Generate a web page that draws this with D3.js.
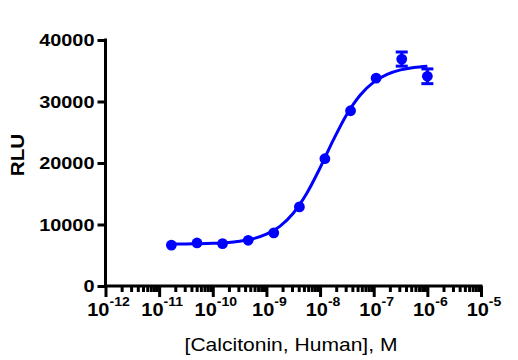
<!DOCTYPE html>
<html><head><meta charset="utf-8">
<script src="https://cdn.jsdelivr.net/npm/d3@7"></script>
<style>body{margin:0;background:#fff}svg{display:block}</style>
</head><body>
<svg id="chart" width="518" height="360"></svg>
<script>
// ---- data ----
const doseM = [1.69e-11, 5.08e-11, 1.52e-10, 4.57e-10, 1.37e-9, 4.12e-9, 1.23e-8, 3.70e-8, 1.11e-7, 3.33e-7, 1.0e-6];
const rlu = [6650, 7000, 6900, 7430, 8640, 12860, 20700, 28500, 33800, 36900, 34100];
const rluErr = [0, 0, 0, 0, 0, 0, 0, 0, 0, 1150, 1200];
// fitted curve
const fitLogM = [-10.77, -10.5, -10.25, -10.0, -9.75, -9.5, -9.25, -9.0, -8.75, -8.5, -8.25, -8.0, -7.75, -7.5, -7.25, -7.0, -6.75, -6.5, -6.25, -6.0];
const fitRlu = [6820, 6840, 6870, 6935, 7050, 7280, 7680, 8420, 9700, 11830, 15030, 19200, 23790, 27930, 31070, 33160, 34420, 35140, 35540, 35750];
const xTickExponents = [-12, -11, -10, -9, -8, -7, -6, -5];
const yTicks = [0, 10000, 20000, 30000, 40000];
const yTickLabels = ["0", "10000", "20000", "30000", "40000"];
const xTitle = "[Calcitonin, Human], M";
const yTitle = "RLU";
const blue = "#0000ff";

const svg = d3.select("#chart");
const x = d3.scaleLog().domain([1e-12, 1e-5]).range([105.5, 481]);
const y = d3.scaleLinear().domain([0, 40000]).range([286, 40]);

// ---- x axis ----
const allXTicks = x.ticks();
const isMajor = v => Math.abs(Math.log10(v) - Math.round(Math.log10(v))) < 1e-6;
const gx = svg.append("g").attr("transform", "translate(0,286)")
  .call(d3.axisBottom(x).tickValues(allXTicks).tickSizeInner(6).tickSizeOuter(0).tickFormat(""));
gx.select(".domain").attr("stroke", "#000").attr("stroke-width", 3).attr("d", `M${x(1e-12)},0H${x(1e-5)+1.5}`);
gx.selectAll(".tick line").attr("stroke", "#000").attr("stroke-width", 3)
  .attr("y2", d => isMajor(d) ? 11 : 6);

// x tick labels
xTickExponents.forEach(e => {
  const g = svg.append("g").attr("transform", `translate(${x(Math.pow(10, e)) + 3},316) scale(1.08,1)`);
  const t = g.append("text").attr("text-anchor", "middle")
    .attr("font-family", "'Liberation Sans', Arial, sans-serif").attr("font-weight", "bold").attr("font-size", 18.5).attr("fill", "#000");
  t.append("tspan").text("10");
  t.append("tspan").attr("font-size", 13).attr("dy", -10).text(String(e));
});

// ---- y axis ----
const gy = svg.append("g").attr("transform", "translate(105.5,0)")
  .call(d3.axisLeft(y).tickValues(yTicks).tickSizeInner(8).tickSizeOuter(0).tickFormat(""));
gy.select(".domain").attr("stroke", "#000").attr("stroke-width", 3).attr("d", `M0,${y(0)}V${y(40000) - 1.5}`);
gy.selectAll(".tick line").attr("stroke", "#000").attr("stroke-width", 3);

yTicks.forEach((v, i) => {
  svg.append("g").attr("transform", `translate(94.5,${y(v) + 6}) scale(1.17,1)`)
    .append("text").attr("text-anchor", "end")
    .attr("font-family", "'Liberation Sans', Arial, sans-serif").attr("font-weight", "bold").attr("font-size", 17).attr("fill", "#000")
    .text(yTickLabels[i]);
});

// titles
svg.append("g").attr("transform", "translate(291,351) scale(1.17,1)")
  .append("text").attr("text-anchor", "middle")
  .attr("font-family", "'Liberation Sans', Arial, sans-serif").attr("font-size", 18).attr("fill", "#000")
  .text(xTitle);
svg.append("g").attr("transform", "translate(24,155) rotate(-90) scale(1.15,1)")
  .append("text").attr("text-anchor", "middle")
  .attr("font-family", "'Liberation Sans', Arial, sans-serif").attr("font-weight", "bold").attr("font-size", 18).attr("fill", "#000")
  .text(yTitle);

// ---- fit curve ----
const line = d3.line().x((d, i) => x(Math.pow(10, fitLogM[i]))).y((d) => y(d)).curve(d3.curveMonotoneX);
svg.append("path").attr("d", line(fitRlu)).attr("fill", "none").attr("stroke", blue).attr("stroke-width", 3);

// ---- error bars ----
const eb = svg.append("g").attr("stroke", blue).attr("stroke-width", 3);
doseM.forEach((d, i) => {
  if (rluErr[i] > 0) {
    const cx = x(d);
    eb.append("line").attr("x1", cx).attr("x2", cx).attr("y1", y(rlu[i] - rluErr[i])).attr("y2", y(rlu[i] + rluErr[i]));
    eb.append("line").attr("x1", cx - 6).attr("x2", cx + 6).attr("y1", y(rlu[i] - rluErr[i])).attr("y2", y(rlu[i] - rluErr[i]));
    eb.append("line").attr("x1", cx - 6).attr("x2", cx + 6).attr("y1", y(rlu[i] + rluErr[i])).attr("y2", y(rlu[i] + rluErr[i]));
  }
});

// ---- points ----
svg.append("g").selectAll("circle").data(doseM).join("circle")
  .attr("cx", d => x(d)).attr("cy", (d, i) => y(rlu[i])).attr("r", 5.4).attr("fill", blue);
</script>
</body></html>
